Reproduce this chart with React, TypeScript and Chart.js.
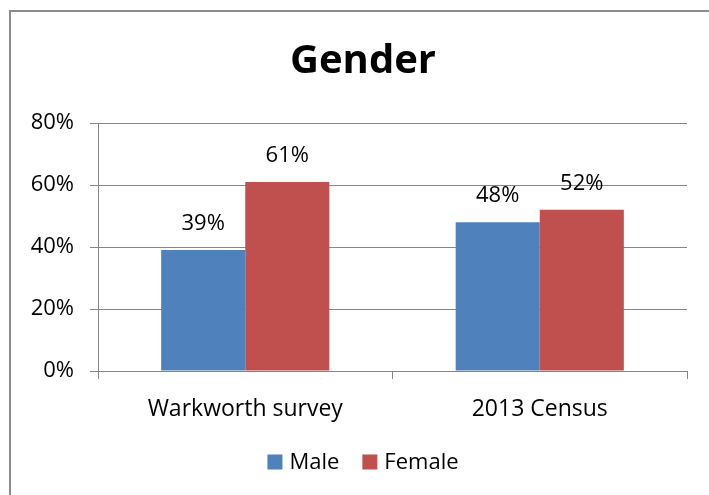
import React, { useEffect, useRef } from "react";
import { Chart, registerables } from "chart.js";

Chart.register(...registerables);

const categories = ["Warkworth survey", "2013 Census"];
const maleValues = [39, 48];
const femaleValues = [61, 52];
const yTicks = [0, 20, 40, 60, 80];
const titleText = "Gender";
const seriesNames = ["Male", "Female"];
const seriesColors = ["#4F81BD", "#C0504D"];

const FONT = "'Open Sans', 'Liberation Sans', sans-serif";
const CENTER_X = 363;

const labelPlugin = {
  id: "barLabels",
  afterDatasetsDraw(chart: any) {
    const ctx = chart.ctx;
    ctx.save();
    ctx.font = `22px ${FONT}`;
    ctx.fillStyle = "#000";
    ctx.textAlign = "center";
    ctx.textBaseline = "middle";
    chart.data.datasets.forEach((ds: any, i: number) => {
      const meta = chart.getDatasetMeta(i);
      meta.data.forEach((bar: any, j: number) => {
        ctx.fillText(`${ds.data[j]}%`, bar.x, bar.y - 26);
      });
    });
    ctx.restore();
  },
};

const frameTitleLegendPlugin = {
  id: "frameTitleLegend",
  beforeDraw(chart: any) {
    const ctx = chart.ctx;
    ctx.save();
    ctx.fillStyle = "#fff";
    ctx.fillRect(0, 0, chart.width, chart.height);
    ctx.strokeStyle = "#8c8c8c";
    ctx.lineWidth = 2;
    ctx.beginPath();
    ctx.moveTo(10, chart.height + 5);
    ctx.lineTo(10, 11);
    ctx.lineTo(chart.width + 5, 11);
    ctx.stroke();
    ctx.restore();
  },
  afterDraw(chart: any) {
    const ctx = chart.ctx;
    ctx.save();
    // title
    ctx.fillStyle = "#000";
    ctx.textAlign = "center";
    ctx.textBaseline = "middle";
    ctx.font = `bold 40px ${FONT}`;
    ctx.fillText(titleText, CENTER_X, 62);
    // legend
    ctx.font = `22px ${FONT}`;
    ctx.textAlign = "left";
    const box = 15;
    const gapBoxText = 7;
    const gapItems = 23;
    const widths = seriesNames.map((n) => box + gapBoxText + ctx.measureText(n).width);
    const total = widths.reduce((a, b) => a + b, 0) + gapItems * (seriesNames.length - 1);
    let x = CENTER_X - total / 2;
    const y = 462;
    seriesNames.forEach((n, i) => {
      ctx.fillStyle = seriesColors[i];
      ctx.fillRect(x, y - box / 2, box, box);
      ctx.fillStyle = "#000";
      ctx.fillText(n, x + box + gapBoxText, y + 1);
      x += widths[i] + gapItems;
    });
    ctx.restore();
  },
};

export default function App() {
  const ref = useRef<HTMLCanvasElement>(null);
  useEffect(() => {
    if (!ref.current) return;
    const chart = new Chart(ref.current, {
      type: "bar",
      data: {
        labels: categories,
        datasets: seriesNames.map((name, i) => ({
          label: name,
          data: i === 0 ? maleValues : femaleValues,
          backgroundColor: seriesColors[i],
          borderWidth: 0,
        })),
      },
      options: {
        animation: false,
        responsive: false,
        maintainAspectRatio: false,
        layout: { padding: { left: 10, right: 22, top: 123, bottom: 53 } },
        datasets: { bar: { categoryPercentage: 0.571, barPercentage: 1 } } as any,
        plugins: {
          title: { display: false },
          legend: { display: false },
          tooltip: { enabled: false },
        },
        scales: {
          x: {
            grid: {
              offset: true,
              drawOnChartArea: false,
              drawTicks: true,
              tickLength: 8,
              color: "#868686",
            },
            border: { color: "#868686" },
            ticks: { color: "#000", font: { family: FONT, size: 23 }, padding: 17 },
            afterFit(scale: any) {
              scale.height = 71;
            },
          },
          y: {
            min: 0,
            max: 80,
            afterBuildTicks(scale: any) {
              scale.ticks = yTicks.map((v) => ({ value: v }));
            },
            grid: { color: "#868686", tickLength: 8 },
            border: { color: "#868686" },
            ticks: {
              color: "#000",
              font: { family: FONT, size: 22 },
              padding: 16,
              callback: (v: any) => `${v}%`,
            },
            afterFit(scale: any) {
              scale.width = 88;
            },
          },
        },
      },
      plugins: [labelPlugin, frameTitleLegendPlugin],
    });
    return () => chart.destroy();
  }, []);
  return (
    <div style={{ position: "fixed", left: 0, top: 0, width: 709, height: 495, background: "#fff" }}>
      <canvas ref={ref} width={709} height={495} style={{ display: "block" }} />
    </div>
  );
}
